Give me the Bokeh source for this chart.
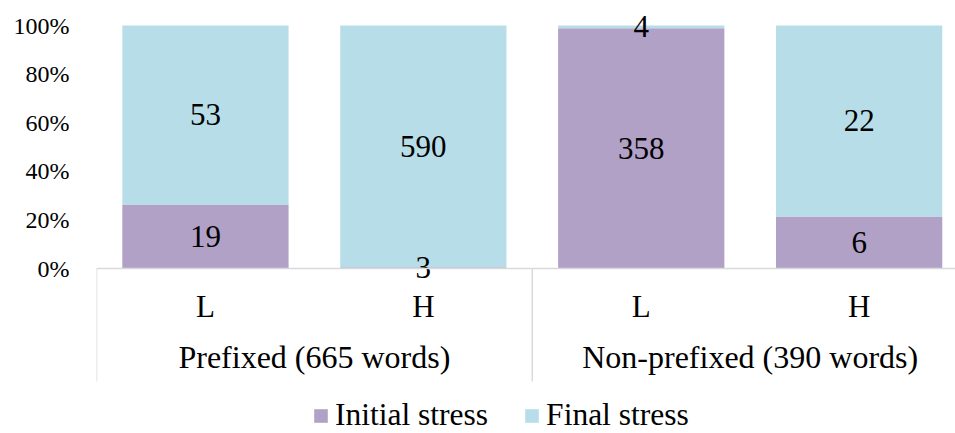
from bokeh.plotting import figure
from bokeh.models import (ColumnDataSource, FixedTicker, NumeralTickFormatter,
                          Legend, LegendItem, Range1d, Span)
from bokeh.core.properties import value
from bokeh.embed import file_html
from bokeh.resources import INLINE

# ---- data ----
groups = ["Prefixed (665 words)", "Non-prefixed (390 words)"]
group_of = [0, 0, 1, 1]
categories = ["L", "H", "L", "H"]
initial_stress = [19, 3, 358, 6]
final_stress = [53, 590, 4, 22]
y_ticks = [0, 0.2, 0.4, 0.6, 0.8, 1.0]

PURPLE = "#B2A1C7"
BLUE = "#B7DEE8"
GRID = "#D9D9D9"
FONT = "Liberation Serif"

# ---- layout constants (pixels) ----
FRAME_W = 859
CAT_W = 217.9          # pixels per category
PX_PER_UNIT = 243.0    # pixels for 100 %
TOP_PAD = 20           # room above 100 %
BOTTOM_PAD = 165       # room below 0 % for the category / group labels
FRAME_H = int(TOP_PAD + PX_PER_UNIT + BOTTOM_PAD)


def px(dy):
    """pixel offset below the 0 % line -> data units"""
    return -dy / PX_PER_UNIT


# ---- derived ----
x = [i + 0.5 for i in range(len(categories))]
totals = [a + b for a, b in zip(initial_stress, final_stress)]
init_frac = [a / t for a, t in zip(initial_stress, totals)]
final_top = [(a + b) / t for a, b, t in zip(initial_stress, final_stress, totals)]

src = ColumnDataSource(dict(
    x=x,
    zero=[0.0] * len(x),
    init=init_frac,
    top=final_top,
    init_mid=[f / 2 for f in init_frac],
    final_mid=[(f + t) / 2 for f, t in zip(init_frac, final_top)],
    init_lbl=[str(v) for v in initial_stress],
    final_lbl=[str(v) for v in final_stress],
    cat=categories,
    cat_y=[px(38)] * len(x),
))

group_centers = []
group_bounds = [0.0]
for g in range(len(groups)):
    xs = [xx for xx, gg in zip(x, group_of) if gg == g]
    group_centers.append(sum(xs) / len(xs))
    group_bounds.append(max(xs) + 0.5)

p = figure(frame_width=FRAME_W, frame_height=FRAME_H,
           x_range=Range1d(0, FRAME_W / CAT_W),
           y_range=Range1d(px(BOTTOM_PAD), 1 + TOP_PAD / PX_PER_UNIT),
           output_backend="svg", toolbar_location=None, x_axis_type=None,
           min_border_left=96, min_border_top=5, min_border_right=0, min_border_bottom=0)
p.outline_line_color = None
p.grid.visible = False
p.background_fill_color = "white"

r1 = p.vbar(x="x", bottom="zero", top="init", width=0.763, source=src,
            fill_color=PURPLE, line_color=None)
r2 = p.vbar(x="x", bottom="init", top="top", width=0.763, source=src,
            fill_color=BLUE, line_color=None)

# category axis line and group separators
p.add_layout(Span(location=0, dimension="width", line_color=GRID, line_width=1.5))
p.segment(x0=group_bounds, y0=[0.0] * len(group_bounds),
          x1=group_bounds, y1=[px(113)] * len(group_bounds),
          line_color=GRID, line_width=1.5)

text_kw = dict(text_font=value(FONT), text_font_size="31px", text_color="black",
               text_align="center", text_baseline="middle", source=src)
p.text(x="x", y="init_mid", text="init_lbl", **text_kw)
p.text(x="x", y="final_mid", text="final_lbl", **text_kw)

# category labels (L / H)
p.text(x="x", y="cat_y", text="cat", source=src, text_font=value(FONT),
       text_font_size="31px", text_color="black", text_align="center",
       text_baseline="alphabetic")
# group labels
p.text(x=group_centers, y=[px(88)] * len(groups), text=groups, text_font=value(FONT),
       text_font_size="32px", text_color="black", text_align="center",
       text_baseline="alphabetic")

# y axis
ya = p.yaxis[0]
ya.ticker = FixedTicker(ticks=y_ticks)
ya.formatter = NumeralTickFormatter(format="0%")
ya.axis_line_color = None
ya.major_tick_line_color = None
ya.minor_tick_line_color = None
ya.major_label_text_font = FONT
ya.major_label_text_font_size = "24px"
ya.major_label_text_color = "black"
ya.major_label_standoff = 21

legend = Legend(items=[LegendItem(label="Initial stress", renderers=[r1]),
                       LegendItem(label="Final stress", renderers=[r2])],
                orientation="horizontal", location=(216, 0),
                label_text_font=FONT, label_text_font_size="31.5px", label_text_color="black",
                glyph_width=17, glyph_height=17, label_standoff=6, spacing=35,
                padding=0, margin=0, border_line_color=None, background_fill_alpha=0)
p.add_layout(legend)

open("out.html", "w").write(file_html(p, INLINE))
